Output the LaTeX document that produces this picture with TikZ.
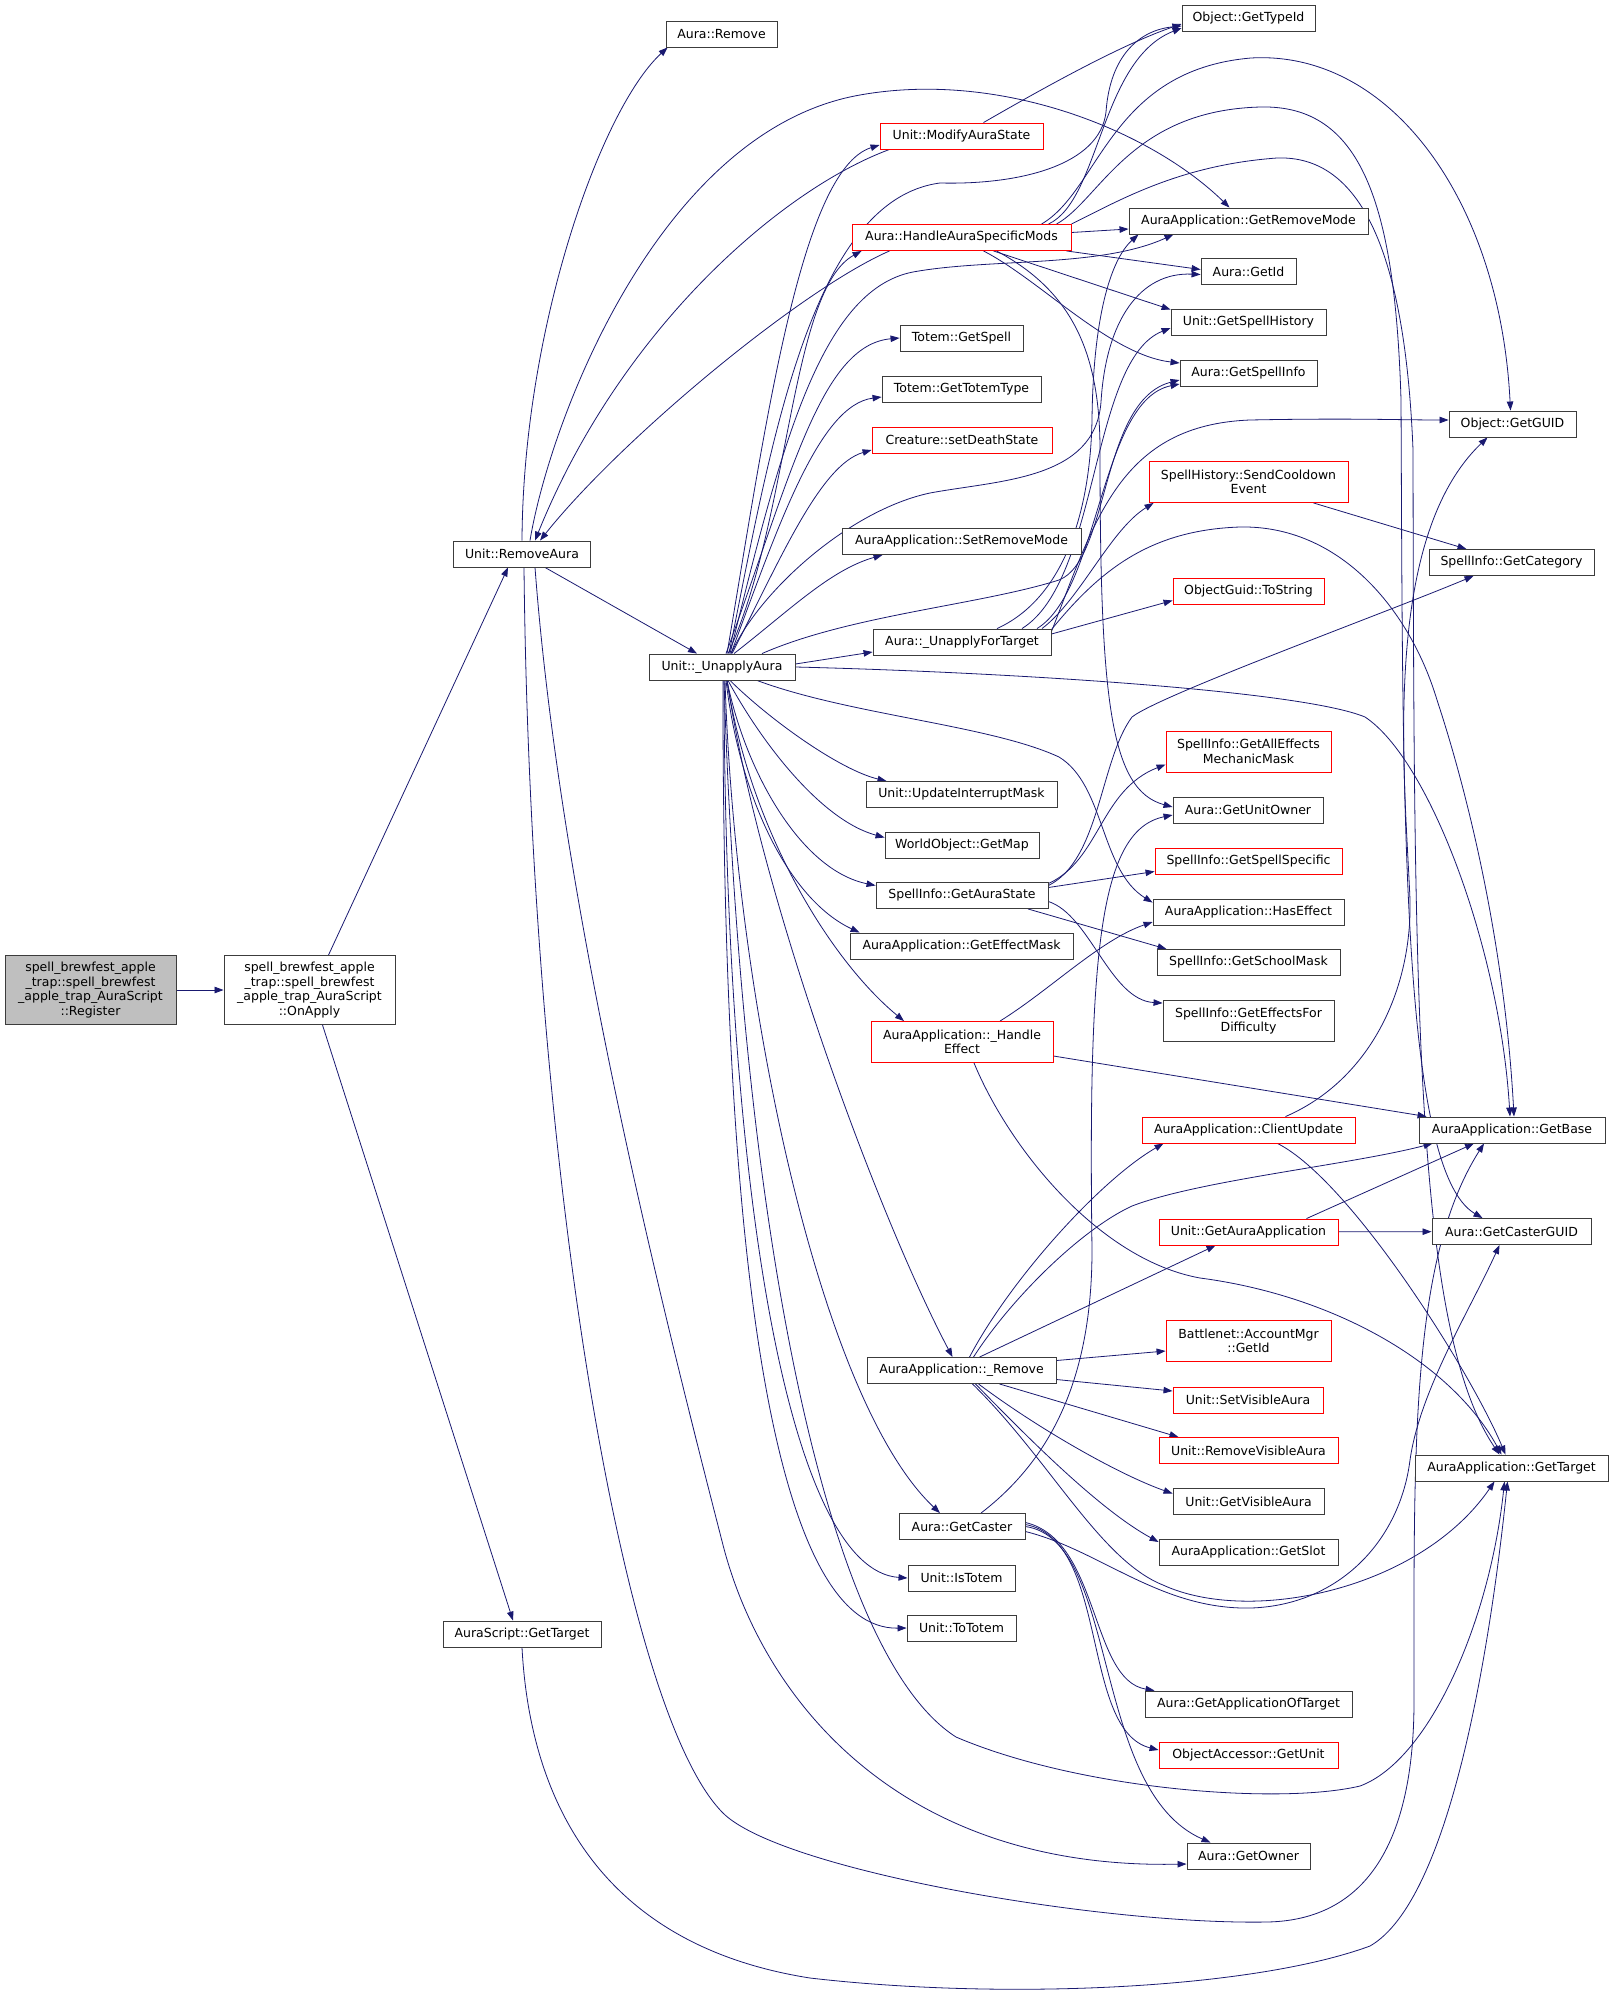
\documentclass[tikz,border=0pt]{standalone}
\usepackage{fontspec}
\newfontfamily\nfont{DejaVu Sans}
\usetikzlibrary{arrows.meta}
\pgfdeclarelayer{bg}
\pgfsetlayers{bg,main}
\definecolor{edgeblue}{RGB}{25,25,112}
\definecolor{nodeborder}{RGB}{60,60,60}
\tikzset{
  nb/.style={draw=nodeborder, line width=0.9pt, fill=white, minimum height=26pt, inner sep=0pt, align=center, font=\nfont\fontsize{12.5}{14.5}\selectfont},
  nr/.style={nb, draw=red},
  ng/.style={nb, fill=black!25},
  ed/.style={draw=edgeblue, line width=0.8pt, -{Triangle[length=9pt,width=6.5pt]}},
}
\begin{document}
\begin{tikzpicture}[x=1pt,y=-1pt]
\useasboundingbox (0,0) rectangle (1613,1999);
% column 0/1/2
\node[ng, minimum width=171pt, minimum height=69pt] (reg) at (90.5,990) {spell\_brewfest\_apple\\\_trap::spell\_brewfest\\\_apple\_trap\_AuraScript\\::Register};
\node[nb, minimum width=171pt, minimum height=69pt] (onapply) at (309.5,990) {spell\_brewfest\_apple\\\_trap::spell\_brewfest\\\_apple\_trap\_AuraScript\\::OnApply};
\node[nb, minimum width=137pt] (ra) at (522,554) {Unit::RemoveAura};
\node[nb, minimum width=158pt] (asgt) at (522,1634) {AuraScript::GetTarget};
\node[nb, minimum width=111pt] (auraremove) at (721.5,34) {Aura::Remove};
\node[nb, minimum width=146pt] (ua) at (722,667) {Unit::\_UnapplyAura};
% column 3
\node[nr, minimum width=163pt] (modify) at (961.5,136) {Unit::ModifyAuraState};
\node[nr, minimum width=219pt] (hasm) at (961.5,237.5) {Aura::HandleAuraSpecificMods};
\node[nb, minimum width=123pt] (totemgs) at (961.5,338) {Totem::GetSpell};
\node[nb, minimum width=159pt] (totemtt) at (961.5,389) {Totem::GetTotemType};
\node[nr, minimum width=180pt] (death) at (962,440) {Creature::setDeathState};
\node[nb, minimum width=239pt] (setrm) at (961.5,541.5) {AuraApplication::SetRemoveMode};
\node[nb, minimum width=178pt] (unapplyft) at (962,642) {Aura::\_UnapplyForTarget};
\node[nb, minimum width=191pt] (updint) at (961.5,794.5) {Unit::UpdateInterruptMask};
\node[nb, minimum width=154pt] (getmap) at (962,845.5) {WorldObject::GetMap};
\node[nb, minimum width=172pt] (auras) at (962,895.5) {SpellInfo::GetAuraState};
\node[nb, minimum width=223pt] (effmask) at (961.5,946) {AuraApplication::GetEffectMask};
\node[nr, minimum width=182pt, minimum height=41pt] (handleff) at (962,1042) {AuraApplication::\_Handle\\Effect};
\node[nb, minimum width=189pt] (remove) at (961.5,1370.5) {AuraApplication::\_Remove};
\node[nb, minimum width=126pt] (getcaster) at (962,1526.5) {Aura::GetCaster};
\node[nb, minimum width=107pt] (istotem) at (961.5,1578) {Unit::IsTotem};
\node[nb, minimum width=109pt] (tototem) at (961.5,1628) {Unit::ToTotem};
% column 4
\node[nb, minimum width=133pt] (typeid) at (1248.5,18) {Object::GetTypeId};
\node[nb, minimum width=239pt] (getrm) at (1248.5,221) {AuraApplication::GetRemoveMode};
\node[nb, minimum width=95pt] (getid) at (1248.5,271.5) {Aura::GetId};
\node[nb, minimum width=155pt] (spellhist) at (1248.5,322) {Unit::GetSpellHistory};
\node[nb, minimum width=137pt] (spellinfo) at (1248.5,373) {Aura::GetSpellInfo};
\node[nr, minimum width=199pt, minimum height=41pt] (sendcd) at (1248.5,482) {SpellHistory::SendCooldown\\Event};
\node[nr, minimum width=151pt] (tostring) at (1248.5,591.5) {ObjectGuid::ToString};
\node[nr, minimum width=165pt, minimum height=41pt] (alleff) at (1248.5,751.5) {SpellInfo::GetAllEffects\\MechanicMask};
\node[nb, minimum width=150pt] (unitowner) at (1248,810) {Aura::GetUnitOwner};
\node[nr, minimum width=187pt] (specific) at (1248.5,861.5) {SpellInfo::GetSpellSpecific};
\node[nb, minimum width=191pt] (haseff) at (1248.5,912) {AuraApplication::HasEffect};
\node[nb, minimum width=183pt] (school) at (1248.5,962.5) {SpellInfo::GetSchoolMask};
\node[nb, minimum width=171pt, minimum height=41pt] (effdiff) at (1248.5,1021) {SpellInfo::GetEffectsFor\\Difficulty};
\node[nr, minimum width=213pt] (clientupd) at (1248.5,1130) {AuraApplication::ClientUpdate};
\node[nr, minimum width=179pt] (getauraapp) at (1248.5,1232) {Unit::GetAuraApplication};
\node[nr, minimum width=165pt, minimum height=41pt] (bnet) at (1248.5,1341) {Battlenet::AccountMgr\\::GetId};
\node[nr, minimum width=150pt] (setvis) at (1248,1400) {Unit::SetVisibleAura};
\node[nr, minimum width=179pt] (remvis) at (1248.5,1450.5) {Unit::RemoveVisibleAura};
\node[nb, minimum width=151pt] (getvis) at (1248.5,1501.5) {Unit::GetVisibleAura};
\node[nb, minimum width=179pt] (getslot) at (1248.5,1552) {AuraApplication::GetSlot};
\node[nb, minimum width=207pt] (appoftarget) at (1248.5,1704) {Aura::GetApplicationOfTarget};
\node[nr, minimum width=179pt] (objunit) at (1248.5,1755) {ObjectAccessor::GetUnit};
\node[nb, minimum width=123pt] (getowner) at (1248.5,1856) {Aura::GetOwner};
% column 5
\node[nb, minimum width=127pt] (guid) at (1512.5,424) {Object::GetGUID};
\node[nb, minimum width=165pt] (category) at (1511.5,562.5) {SpellInfo::GetCategory};
\node[nb, minimum width=186pt] (getbase) at (1512,1130) {AuraApplication::GetBase};
\node[nb, minimum width=159pt] (castguid) at (1511.5,1231.5) {Aura::GetCasterGUID};
\node[nb, minimum width=193pt] (gettarget) at (1511.5,1468) {AuraApplication::GetTarget};

\begin{pgfonlayer}{bg}
\draw[ed] (reg) -- (onapply);
\draw[ed] ([xshift=19pt]onapply.north) -- ([xshift=-14pt]ra.south);
\draw[ed] ([xshift=13pt]onapply.south) -- ([xshift=-9pt]asgt.north);
\draw[ed] (ra.north) .. controls (523,330) and (600,110) .. ([xshift=2pt]auraremove.south west);
\draw[ed] ([xshift=23pt]ra.south) -- ([xshift=-25pt]ua.north);
\draw[ed] ([xshift=8pt]ra.north) .. controls (550,420) and (660,130) .. (860,95) .. controls (1000,70) and (1150,130) .. ([xshift=-19pt]getrm.north);
\draw[ed] ([xshift=-72pt]modify.south) .. controls (780,190) and (620,330) .. ([xshift=13pt]ra.north);
\draw[ed] ([xshift=-72pt]hasm.south) .. controls (800,290) and (620,440) .. ([xshift=18pt]ra.north);
\draw[ed] ([xshift=13pt]ra.south) .. controls (560,900) and (660,1300) .. (723,1545) .. controls (763,1700) and (900,1870) .. ([yshift=-8pt]getowner.west);
\draw[ed] ([xshift=2pt]ra.south) .. controls (530,1150) and (620,1710) .. (723,1813) .. controls (780,1870) and (1100,1925) .. (1267,1922) .. controls (1380,1920) and (1414,1820) .. (1414,1701) .. controls (1414,1450) and (1410,1260) .. ([xshift=-28pt]getbase.south);
\draw[ed] (asgt.south) .. controls (530,1800) and (600,1945) .. (810,1978) .. controls (1000,2000) and (1250,1990) .. (1370,1946) .. controls (1450,1900) and (1490,1650) .. ([xshift=-4pt]gettarget.south);
% from Unit::_UnapplyAura
\draw[ed] ([xshift=5pt]ua.north) .. controls (765,430) and (800,170) .. ([yshift=-9pt]modify.west);
\draw[ed] ([xshift=6pt]ua.north) .. controls (790,520) and (790,290) .. ([xshift=10pt]hasm.south west);
\draw[ed] ([xshift=7pt]ua.north) .. controls (770,450) and (810,200) .. (940,183) .. controls (1020,185) and (1100,165) .. (1106,112) .. controls (1110,55) and (1140,30) .. ([yshift=-8pt]typeid.west);
\draw[ed] ([xshift=8pt]ua.north) .. controls (780,450) and (820,290) .. (913,272) .. controls (990,258) and (1100,268) .. ([xshift=-75pt]getrm.south);
\draw[ed] ([xshift=4pt]ua.north) .. controls (790,480) and (820,345) .. (totemgs.west);
\draw[ed] ([xshift=9pt]ua.north) .. controls (780,520) and (820,405) .. ([yshift=-8pt]totemtt.west);
\draw[ed] ([xshift=10pt]ua.north) .. controls (780,560) and (820,465) .. ([yshift=-10pt]death.west);
\draw[ed] ([xshift=12pt]ua.north) .. controls (790,610) and (830,570) .. ([xshift=-79pt]setrm.south);
\draw[ed] ([yshift=3pt]ua.east) -- ([yshift=-10pt]unapplyft.west);
\draw[ed] (ua.east) .. controls (1000,672) and (1300,690) .. (1365,717) .. controls (1430,760) and (1500,950) .. ([xshift=-2pt]getbase.north);
\draw[ed] ([xshift=35pt]ua.south) .. controls (850,715) and (990,725) .. (1059,757) .. controls (1105,785) and (1100,870) .. ([yshift=-4pt]haseff.north west);
\draw[ed] ([xshift=8pt]ua.south) .. controls (770,720) and (840,770) .. ([xshift=-75pt]updint.north);
\draw[ed] ([xshift=6pt]ua.south) .. controls (760,740) and (820,820) .. ([yshift=8pt]getmap.west);
\draw[ed] ([xshift=5pt]ua.south) .. controls (745,770) and (800,870) .. ([yshift=10pt]auras.west);
\draw[ed] ([xshift=4pt]ua.south) .. controls (740,800) and (790,900) .. ([xshift=10pt]effmask.north west);
\draw[ed] ([xshift=5pt]ua.south) .. controls (750,830) and (830,960) .. ([xshift=-58pt]handleff.north);
\draw[ed] ([xshift=5pt]ua.south) .. controls (760,900) and (880,1220) .. ([xshift=-9pt]remove.north);
\draw[ed] ([xshift=3pt]ua.south) .. controls (735,1000) and (820,1400) .. ([xshift=-22pt]getcaster.north);
\draw[ed] ([xshift=2pt]ua.south) .. controls (725,1200) and (790,1570) .. (istotem.west);
\draw[ed] ([xshift=1pt]ua.south) .. controls (722,1300) and (780,1630) .. (tototem.west);
\draw[ed] ([xshift=2pt]ua.south) .. controls (740,1200) and (820,1650) .. (956,1737) .. controls (1080,1790) and (1280,1805) .. (1360,1786) .. controls (1430,1760) and (1490,1620) .. ([xshift=-7pt]gettarget.south);
\draw[ed] ([xshift=9pt]ua.north) .. controls (760,590) and (850,510) .. (930,493) .. controls (1000,480) and (1095,480) .. (1101,402) .. controls (1106,320) and (1140,272) .. ([yshift=-3pt]getid.west);
\draw[ed] ([xshift=40pt]ua.north) .. controls (850,615) and (980,605) .. (1059,580) .. controls (1110,560) and (1100,400) .. ([yshift=-7pt]spellinfo.west);
% from Aura::_UnapplyForTarget
\draw[ed] ([xshift=35pt]unapplyft.north) .. controls (1060,600) and (1090,520) .. (1092,420) .. controls (1093,320) and (1110,260) .. ([xshift=-110pt]getrm.south);
\draw[ed] ([xshift=60pt]unapplyft.north) .. controls (1100,580) and (1090,360) .. ([yshift=-6pt]spellhist.west);
\draw[ed] ([xshift=75pt]unapplyft.north) .. controls (1100,590) and (1100,400) .. ([yshift=-11pt]spellinfo.west);
\draw[ed] ([yshift=-3pt]unapplyft.north east) .. controls (1095,520) and (1120,425) .. (1250,420) .. controls (1350,418) and (1400,420) .. ([yshift=4pt]guid.west);
\draw[ed] ([xshift=80pt]unapplyft.north) .. controls (1080,600) and (1110,530) .. ([xshift=5pt]sendcd.south west);
\draw[ed] ([yshift=8pt]unapplyft.east) -- ([yshift=-9pt]tostring.west);
\draw[ed] ([yshift=-1pt]unapplyft.north east) .. controls (1100,570) and (1150,530) .. (1240,527) .. controls (1340,525) and (1410,610) .. (1437,700) .. controls (1470,800) and (1505,950) .. ([xshift=2pt]getbase.north);
% from Aura::HandleAuraSpecificMods and Unit::ModifyAuraState
\draw[ed] ([xshift=87pt]hasm.north) .. controls (1100,200) and (1100,60) .. ([yshift=-10pt]typeid.west);
\draw[ed] ([xshift=22pt]modify.north) .. controls (1040,90) and (1120,45) .. ([yshift=-6pt]typeid.west);
\draw[ed] ([yshift=5pt]hasm.east) -- ([yshift=-8pt]getrm.west);
\draw[ed] ([xshift=105pt]hasm.south) -- ([yshift=2pt]getid.west);
\draw[ed] ([xshift=32pt]hasm.south) -- ([yshift=-1pt]spellhist.north west);
\draw[ed] ([xshift=22pt]hasm.south) .. controls (1040,280) and (1110,355) .. ([yshift=10pt]spellinfo.west);
\draw[ed] ([xshift=80pt]hasm.north) .. controls (1100,190) and (1110,70) .. (1251,58) .. controls (1390,50) and (1500,200) .. ([xshift=-2pt]guid.north);
\draw[ed] ([xshift=95pt]hasm.north) .. controls (1100,200) and (1130,110) .. (1261,107) .. controls (1360,105) and (1395,200) .. (1401,400) .. controls (1403,800) and (1400,1170) .. ([xshift=-29pt]castguid.north);
\draw[ed] (hasm.north east) .. controls (1120,200) and (1180,165) .. (1277,158) .. controls (1360,155) and (1405,250) .. (1413,450) .. controls (1414,1000) and (1415,1330) .. ([xshift=-12pt]gettarget.north);
\draw[ed] ([xshift=35pt]hasm.south) .. controls (1070,290) and (1100,350) .. (1100,450) .. controls (1100,700) and (1110,790) .. ([yshift=3pt]unitowner.west);
% from SpellInfo::GetAuraState
\draw[ed] ([yshift=10pt]auras.east) .. controls (1100,860) and (1100,760) .. (1132,717) .. controls (1160,695) and (1380,615) .. ([xshift=-38pt]category.south);
\draw[ed] ([yshift=12pt]auras.east) .. controls (1100,860) and (1100,790) .. ([yshift=-13pt]alleff.west);
\draw[ed] ([yshift=8pt]auras.east) -- ([yshift=-10pt]specific.west);
\draw[ed] ([xshift=66pt]auras.south) -- ([xshift=10pt]school.north west);
\draw[ed] ([yshift=-6pt]auras.east) .. controls (1090,915) and (1110,1000) .. ([yshift=-3pt]effdiff.north west);
% from AuraApplication::_HandleEffect
\draw[ed] ([xshift=38pt]handleff.north) .. controls (1050,990) and (1100,940) .. ([yshift=-10pt]haseff.west);
\draw[ed] ([yshift=-14pt]handleff.east) -- ([xshift=8pt]getbase.north west);
\draw[ed] ([xshift=12pt]handleff.south) .. controls (1010,1150) and (1100,1260) .. (1200,1278) .. controls (1330,1295) and (1450,1360) .. ([xshift=-10pt]gettarget.north);
% ClientUpdate, GetAuraApplication, SendCooldownEvent
\draw[ed] ([xshift=37pt]clientupd.north) .. controls (1370,1080) and (1412,990) .. (1410,900) .. controls (1405,780) and (1380,540) .. ([xshift=-25pt]guid.south);
\draw[ed] ([xshift=29pt]clientupd.south) .. controls (1350,1180) and (1470,1370) .. ([xshift=-6pt]gettarget.north);
\draw[ed] (getauraapp) -- (castguid);
\draw[ed] ([xshift=58pt]getauraapp.north) -- ([xshift=-38pt]getbase.south);
\draw[ed] ([xshift=65pt]sendcd.south) -- ([xshift=-45pt]category.north);
% from AuraApplication::_Remove
\draw[ed] ([xshift=8pt]remove.north) .. controls (1010,1280) and (1100,1180) .. ([xshift=-85pt]clientupd.south);
\draw[ed] ([xshift=12pt]remove.north) .. controls (1010,1300) and (1080,1230) .. (1132,1206) .. controls (1200,1180) and (1350,1165) .. ([xshift=14pt]getbase.south west);
\draw[ed] ([xshift=18pt]remove.north) -- ([xshift=-33pt]getauraapp.south);
\draw[ed] ([yshift=10pt]remove.east) -- ([yshift=-10pt]bnet.west);
\draw[ed] ([yshift=-9pt]remove.east) -- ([yshift=9pt]setvis.west);
\draw[ed] ([xshift=38pt]remove.south) -- ([xshift=-70pt]remvis.north);
\draw[ed] ([xshift=17pt]remove.south) .. controls (1040,1430) and (1120,1475) .. ([yshift=8pt]getvis.west);
\draw[ed] ([xshift=14pt]remove.south) .. controls (1030,1440) and (1100,1510) .. ([yshift=10pt]getslot.west);
\draw[ed] ([xshift=11pt]remove.south) .. controls (1050,1460) and (1100,1560) .. (1163,1585) .. controls (1250,1625) and (1420,1590) .. ([xshift=-17pt]gettarget.south);
% from Aura::GetCaster
\draw[ed] ([yshift=4pt]getcaster.east) .. controls (1100,1540) and (1090,1680) .. ([xshift=10pt]appoftarget.north west);
\draw[ed] ([yshift=2pt]getcaster.east) .. controls (1110,1540) and (1080,1730) .. ([yshift=5pt]objunit.west);
\draw[ed] (getcaster.east) .. controls (1120,1540) and (1090,1790) .. ([xshift=-38pt]getowner.north);
\draw[ed] ([xshift=19pt]getcaster.north) .. controls (1050,1460) and (1092,1380) .. (1092,1250) .. controls (1088,950) and (1100,830) .. ([yshift=-5pt]unitowner.west);
\draw[ed] ([yshift=-5pt]getcaster.east) .. controls (1100,1550) and (1160,1610) .. (1251,1608) .. controls (1340,1605) and (1400,1540) .. (1410,1460) .. controls (1420,1390) and (1470,1310) .. ([xshift=-12pt]castguid.south);
\end{pgfonlayer}
\end{tikzpicture}
\end{document}
